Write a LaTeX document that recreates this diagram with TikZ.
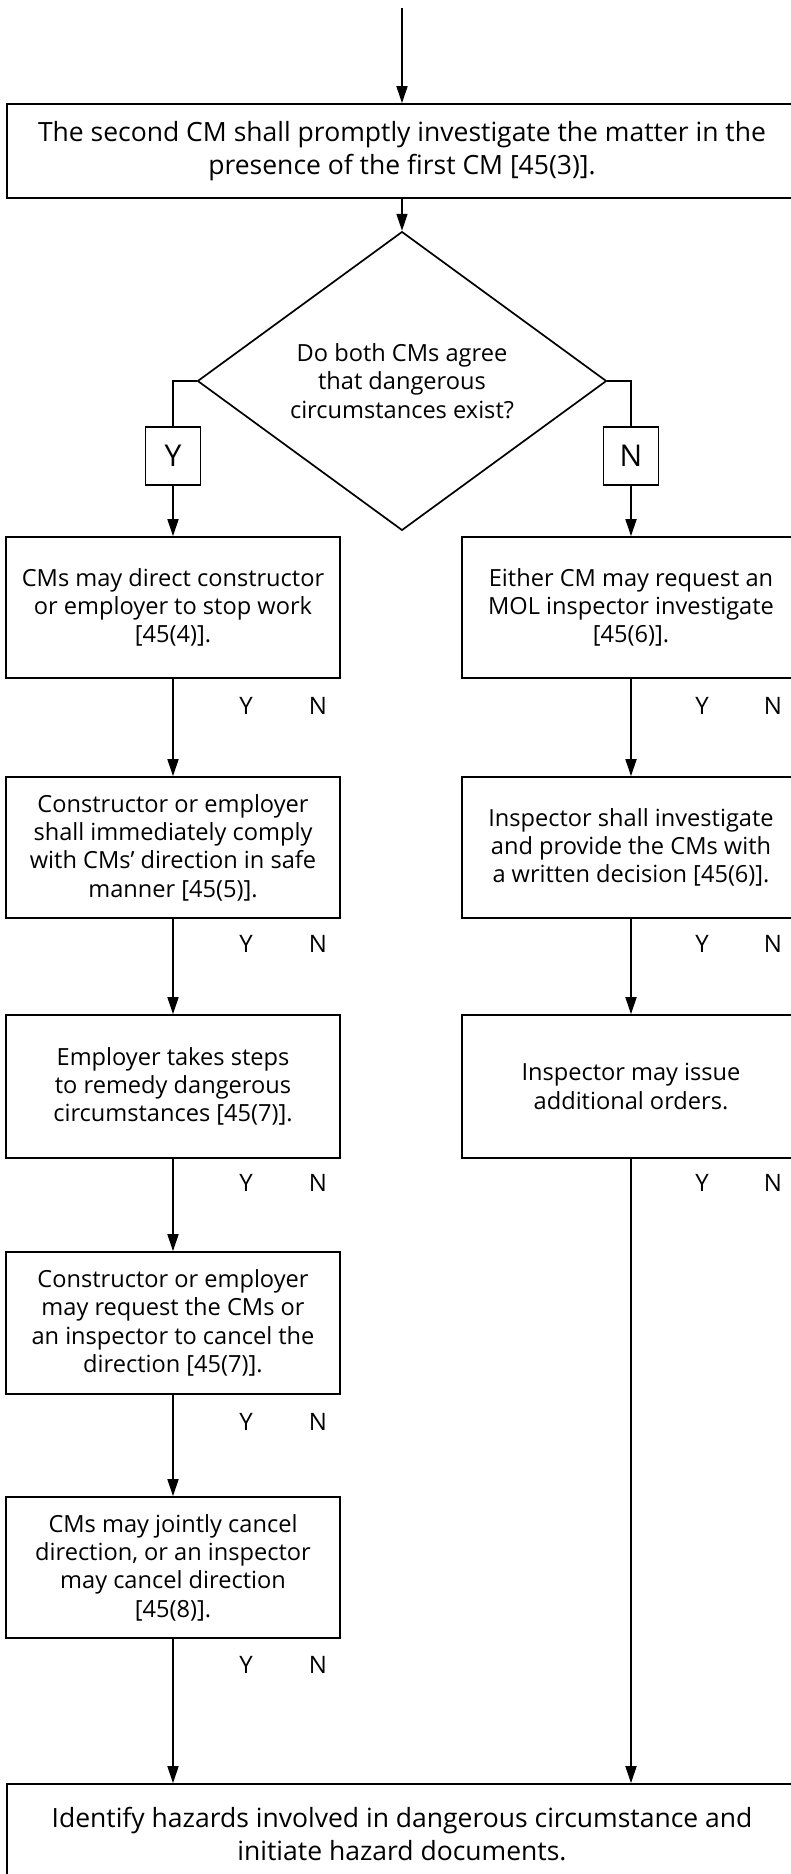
\documentclass[tikz,border=0pt]{standalone}
\usepackage{fontspec}
\setmainfont{Open Sans}
\usetikzlibrary{shapes.geometric,arrows.meta}

\begin{document}
\begin{tikzpicture}[x=1pt,y=-1pt]
        \useasboundingbox (0,0) rectangle (791,1874);
        \clip (0,0) rectangle (791,1874);
        \coordinate (start) at (402,8);
        \begin{scope}[every node/.style={draw, line width=1.7pt, inner sep=0pt, align=center, minimum width=334pt, minimum height=141pt, font=\fontsize{23.6}{28.3}\selectfont}]
                \node[minimum width=790pt, minimum height=94pt, font=\fontsize{26.5}{33}\selectfont] (top) at (402,151) {The second CM shall promptly investigate the matter in the\\presence of the first CM [45(3)].};
                \node[diamond, minimum width=409pt, minimum height=218pt] (dec) at (402,381) {Do both CMs agree\\that dangerous\\circumstances exist?};
                \node[minimum width=55pt, minimum height=58pt, font=\fontsize{30}{36}\selectfont] (yes) at (173,456) {Y};
                \node[minimum width=55pt, minimum height=58pt, font=\fontsize{30}{36}\selectfont] (no) at (631,456) {N};
                \node (L1) at (173,607.5) {CMs may direct constructor\\or employer to stop work\\[0pt][45(4)].};
                \node (L2) at (173,847.5) {Constructor or employer\\shall immediately comply\\with CMs’ direction in safe\\manner [45(5)].};
                \node[minimum height=143pt] (L3) at (173,1086.5) {Employer takes steps\\to remedy dangerous\\circumstances [45(7)].};
                \node[minimum height=142pt] (L4) at (173,1323) {Constructor or employer\\may request the CMs or\\an inspector to cancel the\\direction [45(7)].};
                \node (L5) at (173,1567.5) {CMs may jointly cancel\\direction, or an inspector\\may cancel direction\\[0pt][45(8)].};
                \node[minimum width=338pt] (R1) at (631,607.5) {Either CM may request an\\MOL inspector investigate\\[0pt][45(6)].};
                \node[minimum width=338pt] (R2) at (631,847.5) {Inspector shall investigate\\and provide the CMs with\\a written decision [45(6)].};
                \node[minimum width=338pt, minimum height=143pt] (R3) at (631,1086.5) {Inspector may issue\\additional orders.};
                \node[minimum width=790pt, minimum height=100pt, font=\fontsize{26.5}{33}\selectfont] (fin) at (402,1834) {Identify hazards involved in dangerous circumstance and\\initiate hazard documents.};
        \end{scope}
        \begin{scope}[every node/.style={inner sep=0pt, font=\fontsize{24}{28.3}\selectfont}]
                \node (yL1) at (246,706) {Y};  \node (nL1) at (318,706) {N};
                \node (yL2) at (246,944) {Y};  \node (nL2) at (318,944) {N};
                \node (yL3) at (246,1183) {Y}; \node (nL3) at (318,1183) {N};
                \node (yL4) at (246,1422) {Y}; \node (nL4) at (318,1422) {N};
                \node (yL5) at (246,1665) {Y}; \node (nL5) at (318,1665) {N};
                \node (yR1) at (702,706) {Y};  \node (nR1) at (773,706) {N};
                \node (yR2) at (702,944) {Y};  \node (nR2) at (773,944) {N};
                \node (yR3) at (702,1183) {Y}; \node (nR3) at (773,1183) {N};
        \end{scope}
        \draw[line width=1.7pt] (dec.west) -| (yes.north);
        \draw[line width=1.7pt] (dec.east) -| (no.north);
        \begin{scope}[every path/.style={line width=1.7pt, -{Triangle[length=17pt,width=11pt]}}]
                \path (start) edge (top);
                \path (top) edge (dec);
                \path (yes) edge (L1);
                \path (L1) edge (L2);
                \path (L2) edge (L3);
                \path (L3) edge (L4);
                \path (L4) edge (L5);
                \path (L5) edge (L5 |- fin.north);
                \path (no) edge (R1);
                \path (R1) edge (R2);
                \path (R2) edge (R3);
                \path (R3) edge (R3 |- fin.north);
        \end{scope}
\end{tikzpicture}
\end{document}
